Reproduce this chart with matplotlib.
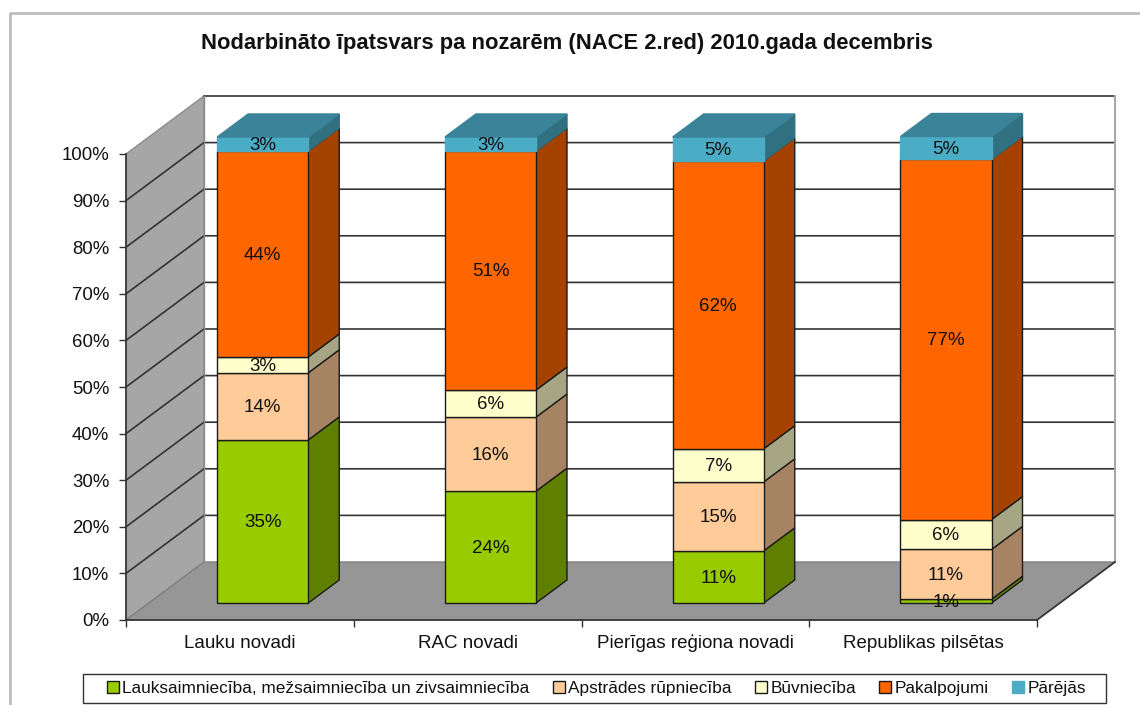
import matplotlib

matplotlib.use("Agg")
import matplotlib.pyplot as plt
from matplotlib.lines import Line2D
from matplotlib.patches import Patch, Polygon, Rectangle

plt.rcParams["font.family"] = ["Liberation Sans", "DejaVu Sans"]

title = "Nodarbināto īpatsvars pa nozarēm (NACE 2.red) 2010.gada decembris"
categories = ["Lauku novadi", "RAC novadi", "Pierīgas reģiona novadi", "Republikas pilsētas"]
series_names = [
    "Lauksaimniecība, mežsaimniecība un zivsaimniecība",
    "Apstrādes rūpniecība",
    "Būvniecība",
    "Pakalpojumi",
    "Pārējās",
]
agriculture = [35.0, 24.0, 11.2, 0.8]
manufacturing = [14.4, 15.9, 14.8, 10.7]
construction = [3.4, 5.8, 7.1, 6.4]
services = [44.2, 51.3, 61.8, 77.3]
other = [3.0, 3.0, 5.1, 4.9]
y_ticks = [0, 10, 20, 30, 40, 50, 60, 70, 80, 90, 100]

series_values = [agriculture, manufacturing, construction, services, other]
front_colors = ["#99CC00", "#FFCC99", "#FFFFCC", "#FF6600", "#4BACC6"]
side_colors = ["#5F7F00", "#A58363", "#A6A684", "#A54200", "#317080"]
edge_colors = ["#1A1A1A", "#1A1A1A", "#1A1A1A", "#1A1A1A", "#4BACC6"]
top_color = "#3B8399"

# one unit of depth moves a point this far, in data units
depth_x = 78 / 227.75
depth_y = 58 / 4.66
bar_width = 0.4
bar_near = 0.293
bar_far = 0.69


def project(x, y, depth=0.0):
    return (x + depth * depth_x, y + depth * depth_y)


def face(ax, points, color, edge=None, zorder=2, lw=1.0):
    poly = Polygon(
        [project(*p) for p in points],
        closed=True,
        facecolor=color,
        edgecolor=edge if edge else color,
        linewidth=lw,
        zorder=zorder,
        clip_on=False,
    )
    ax.add_patch(poly)


fig = plt.figure(figsize=(11.4, 7.05), dpi=100)
ax = fig.add_axes([126 / 1140, 85 / 705, 911 / 1140, 466 / 705])
ax.set_xlim(0, 4)
ax.set_ylim(0, 100)
ax.patch.set_visible(False)

# chart area border
fig.add_artist(Line2D([10 / 1140, 10 / 1140, 1], [0, 692 / 705, 692 / 705], color="#BDBDBD", lw=2))

# walls and floor
face(ax, [(0, 0, 1), (4, 0, 1), (4, 100, 1), (0, 100, 1)], "white", zorder=0)
face(ax, [(0, 0, 0), (0, 100, 0), (0, 100, 1), (0, 0, 1)], "#A6A6A6", edge="#8C8C8C", zorder=0)
face(ax, [(0, 0, 0), (4, 0, 0), (4, 0, 1), (0, 0, 1)], "#969696", edge="#808080", zorder=0)

for tick in y_ticks[1:]:
    if tick == y_ticks[-1]:
        points = [project(0, tick, 1), project(4, tick, 1)]
    else:
        points = [project(0, tick, 0), project(0, tick, 1), project(4, tick, 1)]
    ax.plot(*zip(*points), color="#333333", lw=1.2, zorder=1, clip_on=False)
ax.plot(*zip(project(4, 0, 1), project(4, 100, 1)), color="#A6A6A6", lw=1.5, zorder=1, clip_on=False)
ax.plot(*zip(project(0, 0, 1), project(0, 100, 1)), color="#8C8C8C", lw=1, zorder=1, clip_on=False)
ax.plot(*zip(project(4, 0, 0), project(4, 0, 1)), color="#333333", lw=1.2, zorder=1, clip_on=False)

# stacked 3D columns
for i, name in enumerate(categories):
    left = i + 0.5 - bar_width / 2
    right = left + bar_width
    bottom = 0.0
    for s, values in enumerate(series_values):
        top = bottom + values[i]
        edge = edge_colors[s]
        face(ax, [(right, bottom, bar_near), (right, bottom, bar_far),
                  (right, top, bar_far), (right, top, bar_near)],
             side_colors[s], edge="#1A1A1A" if s < 4 else side_colors[s], zorder=3 + s)
        face(ax, [(left, bottom, bar_near), (right, bottom, bar_near),
                  (right, top, bar_near), (left, top, bar_near)],
             front_colors[s], edge=edge, zorder=3 + s)
        tx, ty = project((left + right) / 2, (bottom + top) / 2, bar_near)
        ax.annotate(f"{round(values[i])}%", (tx, ty), xytext=(0, -1), textcoords="offset points",
                    ha="center", va="center", fontsize=13.5, color="#111111", zorder=12,
                    annotation_clip=False)
        bottom = top
    face(ax, [(left, bottom, bar_near), (right, bottom, bar_near),
              (right, bottom, bar_far), (left, bottom, bar_far)],
         top_color, zorder=9)

# axes
for side in ["top", "right"]:
    ax.spines[side].set_visible(False)
for side in ["left", "bottom"]:
    ax.spines[side].set_color("#333333")
    ax.spines[side].set_linewidth(1.2)
    ax.spines[side].set_zorder(11)
ax.set_yticks(y_ticks)
ax.set_yticklabels([f"{t}%" for t in y_ticks], fontsize=13.4, color="#111111")
ax.set_xticks([0, 1, 2, 3, 4])
ax.set_xticklabels([])
ax.set_xticks([0.5, 1.5, 2.5, 3.5], minor=True)
ax.set_xticklabels(categories, minor=True, fontsize=13.5, color="#111111")
for label in ax.get_xticklabels(minor=True):
    label.set_verticalalignment("baseline")
ax.tick_params(axis="x", which="minor", length=0, pad=20)
ax.tick_params(axis="y", which="major", pad=7)
ax.tick_params(axis="both", which="major", length=5, width=1, color="#333333")

fig.text(566.5 / 1140, 1 - 43 / 705, title, ha="center", va="center",
         fontsize=15.8, fontweight="bold", color="#111111")

# legend frame is wider than the entries, so it is drawn on its own
fig.add_artist(Rectangle((83 / 1140, 1 - 703 / 705), 1023 / 1140, 29 / 705,
                         transform=fig.transFigure, facecolor="white",
                         edgecolor="#333333", linewidth=1))
handles = [
    Patch(facecolor=c, edgecolor=e, linewidth=1)
    for c, e in zip(front_colors, edge_colors)
]
leg = fig.legend(
    handles, series_names,
    loc="center",
    bbox_to_anchor=(596.5 / 1140, 1 - 688.5 / 705),
    ncol=5,
    fontsize=12.4,
    frameon=False,
    handlelength=0.7,
    handleheight=0.7,
    handletextpad=0.2,
    columnspacing=1.35,
    labelcolor="#111111",
)
leg.set_zorder(20)

fig.savefig("out.png", dpi=100)
